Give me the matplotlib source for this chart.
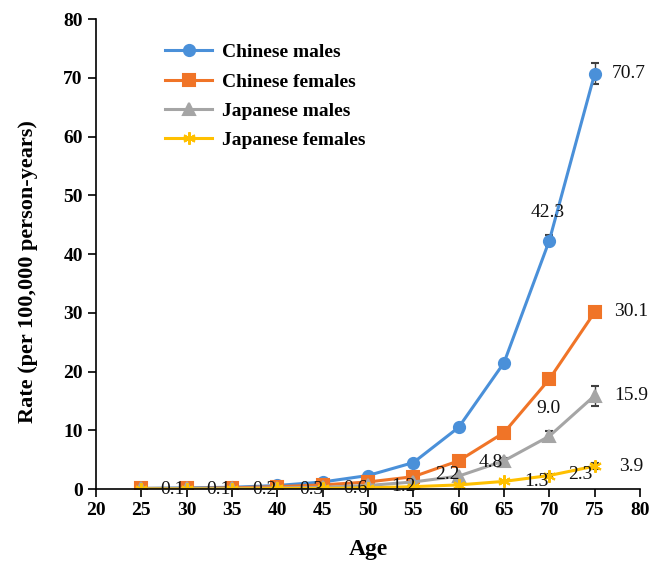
import numpy as np
import matplotlib
matplotlib.use("Agg")
import matplotlib.pyplot as plt

plt.rcParams['font.family'] = ['Liberation Serif', 'DejaVu Serif']

# Age groups and incidence rates (per 100,000 person-years)
ages = [25, 30, 35, 40, 45, 50, 55, 60, 65, 70, 75]
cn_male = [0.1, 0.2, 0.3, 0.6, 1.2, 2.3, 4.5, 10.5, 21.5, 42.3, 70.7]
cn_female = [0.1, 0.1, 0.2, 0.4, 0.7, 1.2, 2.1, 4.8, 9.6, 18.7, 30.1]
jp_male = [0.1, 0.1, 0.1, 0.2, 0.3, 0.6, 1.2, 2.2, 4.8, 9.0, 15.9]
jp_female = [0.0, 0.0, 0.0, 0.1, 0.1, 0.2, 0.4, 0.7, 1.3, 2.3, 3.9]

# error bar half-widths
cn_male_err = [0.02, 0.03, 0.05, 0.07, 0.1, 0.15, 0.2, 0.3, 0.5, 1.0, 1.8]
cn_female_err = [0.02, 0.02, 0.03, 0.05, 0.07, 0.1, 0.15, 0.2, 0.3, 0.5, 0.8]
jp_male_err = [0.02, 0.02, 0.03, 0.04, 0.05, 0.08, 0.1, 0.2, 0.4, 0.9, 1.7]
jp_female_err = [0.01, 0.01, 0.02, 0.02, 0.03, 0.04, 0.06, 0.1, 0.15, 0.3, 0.5]

# value labels (text, x, y) as placed in the original
value_labels = [
    ("0.1", 28.4, 0.0), ("0.1", 33.5, 0.0), ("0.2", 38.6, 0.0),
    ("0.3", 43.7, 0.0), ("0.6", 48.6, 0.1), ("1.2", 53.9, 0.4),
    ("2.2", 58.7, 2.4), ("4.8", 63.5, 4.6), ("9.0", 69.9, 13.7),
    ("15.9", 79.0, 16.0), ("1.3", 68.6, 1.2), ("2.3", 73.4, 2.4),
    ("3.9", 79.0, 3.8), ("30.1", 79.0, 30.2), ("42.3", 69.8, 47.1),
    ("70.7", 78.8, 70.8),
]

fig = plt.figure(figsize=(6.51, 5.61), dpi=100)
ax = fig.add_axes([0.1475, 0.1283, 0.8356, 0.8377])

series = [
    ("Chinese males", cn_male, cn_male_err, "#4A90D9", "o", 8),
    ("Chinese females", cn_female, cn_female_err, "#F07427", "s", 8),
    ("Japanese males", jp_male, jp_male_err, "#A5A5A5", "^", 8),
    ("Japanese females", jp_female, jp_female_err, "#FFC000", (6, 2, 0), 9),
]

for name, vals, err, col, mk, ms in series:
    ax.errorbar(ages, vals, yerr=err, color=col, marker=mk, markersize=ms,
                lw=2.2, ecolor="#404040", elinewidth=1, capsize=3,
                label=name, mew=1.5)

for txt, x, y in value_labels:
    ax.text(x, y, txt, fontsize=14, ha="center", va="center", color="#111111")

ax.set_xlim(20, 80)
ax.set_ylim(0, 80)
ax.set_xticks(np.arange(20, 81, 5))
ax.set_yticks(np.arange(0, 81, 10))
for s in ["top", "right"]:
    ax.spines[s].set_visible(False)
for s in ["left", "bottom"]:
    ax.spines[s].set_linewidth(1.2)
ax.tick_params(direction="out", length=6, width=1.2, labelsize=14)
for lab in ax.get_xticklabels() + ax.get_yticklabels():
    lab.set_fontweight("bold")

ax.set_xlabel("Age", fontsize=17, fontweight="bold", labelpad=14)
ax.set_ylabel("Rate (per 100,000 person-years)", fontsize=16, fontweight="bold")
ax.yaxis.set_label_coords(-0.106, 0.462)

handles, labels = ax.get_legend_handles_labels()
handles = [h[0] for h in handles]
ax.legend(handles, labels, loc="upper left", bbox_to_anchor=(0.095, 0.985),
          frameon=False, prop={"weight": "bold", "size": 14},
          handlelength=2.4, labelspacing=0.6, handletextpad=0.5)

fig.savefig("out.png", dpi=100)
